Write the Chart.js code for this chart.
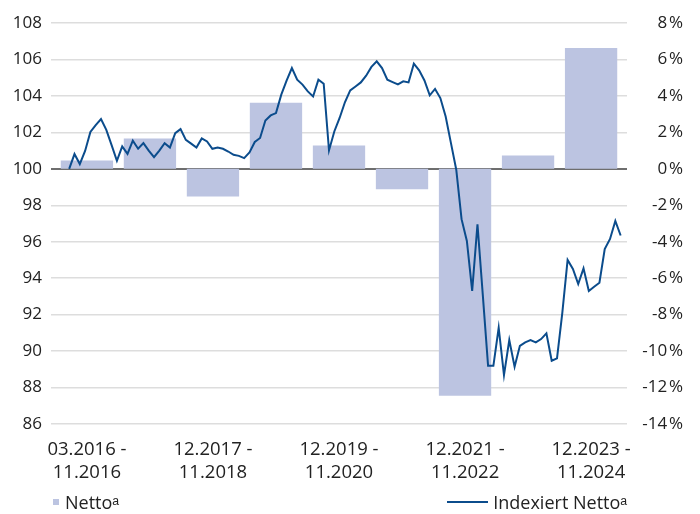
<!DOCTYPE html>
<html>
<head>
<meta charset="utf-8">
<script src="https://cdn.jsdelivr.net/npm/chart.js@4"></script>
<style>
  html, body { margin: 0; padding: 0; background: #fff; }
  #wrap { position: relative; width: 700px; height: 514px; font-family: "Open Sans", sans-serif; color: #222; }
  .legend { position: absolute; top: 492px; height: 20px; line-height: 20px; font-size: 18px; display: flex; align-items: center; white-space: nowrap; }
  .sq { width: 6px; height: 6px; background: #bcc4e1; margin-right: 6px; }
  .ln { width: 41px; height: 2px; background: #0b4c8c; margin-right: 5px; }
</style>
</head>
<body>
<div id="wrap">
  <canvas id="c" width="700" height="514"></canvas>
  <div class="legend" style="left:53px"><span class="sq"></span>Nettoᵃ</div>
  <div class="legend" style="right:73px"><span class="ln"></span>Indexiert Nettoᵃ</div>
</div>
<script>
// periods for the bars (yearly, Dec - Nov)
const periods = [
  ['03.2016', '11.2016'], ['12.2016', '11.2017'], ['12.2017', '11.2018'],
  ['12.2018', '11.2019'], ['12.2019', '11.2020'], ['12.2020', '11.2021'],
  ['12.2021', '11.2022'], ['12.2022', '11.2023'], ['12.2023', '11.2024']
];
// Netto change per period, in %
const netto = [0.45, 1.66, -1.52, 3.63, 1.28, -1.12, -12.45, 0.73, 6.63];

// monthly index, 03.2016 = 100 ... 11.2024
const indexiert = [
  100.0, 100.81, 100.26, 100.98, 102.02, 102.4, 102.73, 102.14, 101.3, 100.44,
  101.23, 100.82, 101.54, 101.10, 101.41, 101.0, 100.64, 101.0, 101.41, 101.17,
  101.96, 102.18, 101.59, 101.38, 101.17, 101.67, 101.50, 101.10, 101.17, 101.10,
  100.95, 100.77, 100.71, 100.59, 100.90, 101.47, 101.69, 102.65, 102.93, 103.06,
  104.07, 104.84, 105.53, 104.89, 104.62, 104.25, 103.97, 104.89, 104.67, 101.01,
  102.05, 102.79, 103.65, 104.30, 104.52, 104.74, 105.11, 105.59, 105.90, 105.53,
  104.89, 104.76, 104.63, 104.80, 104.74, 105.77, 105.40, 104.85, 104.03, 104.38,
  103.88, 102.87, 101.41, 99.95, 97.24, 96.04, 93.30, 96.96, 93.1, 89.19,
  89.19, 91.28, 88.68, 90.60, 89.14, 90.29, 90.48, 90.60, 90.48, 90.66,
  90.97, 89.47, 89.60, 92.1, 95.0, 94.51, 93.68, 94.54, 93.30, 93.53,
  93.75, 95.60, 96.15, 97.14, 96.34
];

const leftTicks = [86, 88, 90, 92, 94, 96, 98, 100, 102, 104, 106, 108];
const rightTicks = [-14, -12, -10, -8, -6, -4, -2, 0, 2, 4, 6, 8];
const shownPeriods = [0, 2, 4, 6, 8];

const tickFont = { family: 'Open Sans', size: 17 };

new Chart(document.getElementById('c'), {
  type: 'bar',
  data: {
    datasets: [
      {
        type: 'line',
        label: 'Indexiert Netto',
        data: indexiert.map((v, i) => ({ x: i, y: v })),
        xAxisID: 'x2',
        yAxisID: 'y',
        borderColor: '#0b4c8c',
        borderWidth: 2,
        pointRadius: 0,
        tension: 0,
        order: 0
      },
      {
        type: 'bar',
        label: 'Netto',
        data: netto.map((v, i) => ({ x: i, y: v })),
        xAxisID: 'x',
        yAxisID: 'y1',
        backgroundColor: '#bcc4e1',
        grouped: false,
        categoryPercentage: 1,
        barPercentage: 0.83,
        maxBarThickness: 52.5,
        order: 1
      }
    ]
  },
  options: {
    responsive: false,
    animation: false,
    devicePixelRatio: 1,
    layout: { padding: { top: 23, right: 17, bottom: 0, left: 0 } },
    plugins: { legend: { display: false }, tooltip: { enabled: false } },
    scales: {
      x: {
        type: 'linear',
        position: 'bottom',
        min: -0.57,
        max: 8.57,
        offset: false,
        grid: { display: false, drawTicks: false },
        border: { display: false },
        afterBuildTicks: (axis) => { axis.ticks = shownPeriods.map(v => ({ value: v })); },
        afterFit: (s) => { s.height = 90; },
        ticks: {
          autoSkip: false,
          maxRotation: 0,
          padding: 14,
          color: '#222',
          font: { family: 'Open Sans', size: 18.5, lineHeight: 1.26 },
          callback: (v) => periods[v] ? [periods[v][0] + ' -', periods[v][1]] : ''
        }
      },
      x2: {
        type: 'linear',
        display: false,
        min: -3.43,
        max: 105.2,
        offset: false
      },
      y: {
        position: 'left',
        min: leftTicks[0],
        max: leftTicks[leftTicks.length - 1],
        afterBuildTicks: (axis) => { axis.ticks = leftTicks.map(v => ({ value: v })); },
        afterFit: (s) => { s.width = 51; },
        border: { display: false },
        grid: {
          drawTicks: false,
          color: (ctx) => ctx.tick && ctx.tick.value === 100 ? '#6e6e6e' : '#dddddd',
          lineWidth: (ctx) => ctx.tick && ctx.tick.value === 100 ? 2 : 1.5
        },
        ticks: { padding: 9, color: '#222', font: tickFont }
      },
      y1: {
        position: 'right',
        min: rightTicks[0],
        max: rightTicks[rightTicks.length - 1],
        afterBuildTicks: (axis) => { axis.ticks = rightTicks.map(v => ({ value: v })); },
        afterFit: (s) => { s.width = 56; },
        border: { display: false },
        grid: { display: false, drawTicks: false },
        ticks: {
          crossAlign: 'far',
          color: '#222',
          font: tickFont,
          callback: (v) => v + '\u200a%'
        }
      }
    }
  }
});
</script>
</body>
</html>
